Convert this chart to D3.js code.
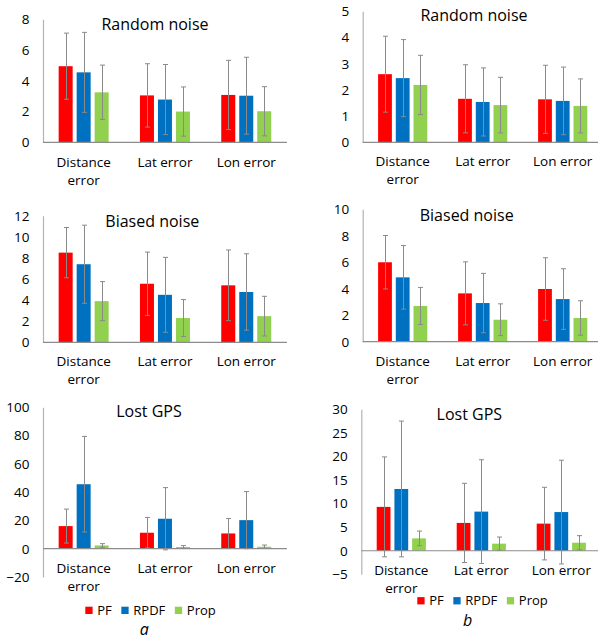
<!DOCTYPE html>
<html>
<head>
<meta charset="utf-8">
<script src="https://cdn.jsdelivr.net/npm/d3@7/dist/d3.min.js"></script>
<style>
  html, body { margin: 0; padding: 0; background: #fff; }
  svg { display: block; font-family: "Open Sans", "Noto Sans", sans-serif; }
</style>
</head>
<body>
<svg id="chart" width="598" height="639"></svg>
<script>
// Categories and series
const categories = ["Distance error", "Lat error", "Lon error"];
const seriesNames = ["PF", "RPDF", "Prop"];
const seriesColors = ["#FF0000", "#0070C0", "#92D050"];

// Column a: mean errors and standard deviations, one array per series
const randomA_PF = [4.95, 3.05, 3.08],  randomA_PF_sd = [2.15, 2.06, 2.25];
const randomA_RPDF = [4.55, 2.78, 3.03], randomA_RPDF_sd = [2.6, 2.28, 2.5];
const randomA_Prop = [3.25, 2.0, 2.02],  randomA_Prop_sd = [1.77, 1.6, 1.6];

const biasedA_PF = [8.5, 5.55, 5.4],    biasedA_PF_sd = [2.38, 3.0, 3.35];
const biasedA_RPDF = [7.4, 4.5, 4.77],  biasedA_RPDF_sd = [3.7, 3.55, 3.62];
const biasedA_Prop = [3.9, 2.3, 2.48],  biasedA_Prop_sd = [1.85, 1.75, 1.88];

const lostA_PF = [16.0, 11.3, 10.8],    lostA_PF_sd = [12.0, 10.8, 10.6];
const lostA_RPDF = [45.6, 21.2, 20.2],  lostA_RPDF_sd = [33.8, 22.0, 20.2];
const lostA_Prop = [2.3, 1.2, 1.4],     lostA_Prop_sd = [1.3, 1.0, 1.2];

// Column b
const randomB_PF = [2.6, 1.66, 1.64],   randomB_PF_sd = [1.45, 1.3, 1.3];
const randomB_RPDF = [2.45, 1.54, 1.58], randomB_RPDF_sd = [1.47, 1.3, 1.29];
const randomB_Prop = [2.19, 1.42, 1.39], randomB_Prop_sd = [1.13, 1.06, 1.03];

const biasedB_PF = [6.0, 3.65, 3.98],   biasedB_PF_sd = [2.02, 2.38, 2.36];
const biasedB_RPDF = [4.86, 2.92, 3.22], biasedB_RPDF_sd = [2.4, 2.24, 2.29];
const biasedB_Prop = [2.7, 1.66, 1.79],  biasedB_Prop_sd = [1.4, 1.2, 1.3];

const lostB_PF = [9.3, 5.9, 5.75],      lostB_PF_sd = [10.6, 8.4, 7.7];
const lostB_RPDF = [13.1, 8.3, 8.2],    lostB_RPDF_sd = [14.4, 11.0, 11.0];
const lostB_Prop = [2.62, 1.5, 1.7],    lostB_Prop_sd = [1.55, 1.4, 1.5];

// Axis tick values per panel
const ticksRandomA = [0, 2, 4, 6, 8];
const ticksRandomB = [0, 1, 2, 3, 4, 5];
const ticksBiasedA = [0, 2, 4, 6, 8, 10, 12];
const ticksBiasedB = [0, 2, 4, 6, 8, 10];
const ticksLostA = [-20, 0, 20, 40, 60, 80, 100];
const ticksLostB = [-5, 0, 5, 10, 15, 20, 25, 30];

const titles = ["Random noise", "Biased noise", "Lost GPS"];
const columnLabels = ["a", "b"];

// Panel definitions: data + layout
const panels = [
  { title: titles[0], ticks: ticksRandomA,
    means: [randomA_PF, randomA_RPDF, randomA_Prop], sds: [randomA_PF_sd, randomA_RPDF_sd, randomA_Prop_sd],
    axisX: 43, groupW: 81.3, yPix: [142.3, 19.3], titleX: 155, titleY: 30, labelY: 162.3 },
  { title: titles[0], ticks: ticksRandomB,
    means: [randomB_PF, randomB_RPDF, randomB_Prop], sds: [randomB_PF_sd, randomB_RPDF_sd, randomB_Prop_sd],
    axisX: 362.7, groupW: 80, yPix: [142.3, 11.3], titleX: 474, titleY: 20.7, labelY: 161.7 },
  { title: titles[1], ticks: ticksBiasedA,
    means: [biasedA_PF, biasedA_RPDF, biasedA_Prop], sds: [biasedA_PF_sd, biasedA_RPDF_sd, biasedA_Prop_sd],
    axisX: 43, groupW: 81.3, yPix: [342.3, 215.7], titleX: 152.3, titleY: 226.7, labelY: 361.7 },
  { title: titles[1], ticks: ticksBiasedB,
    means: [biasedB_PF, biasedB_RPDF, biasedB_Prop], sds: [biasedB_PF_sd, biasedB_RPDF_sd, biasedB_Prop_sd],
    axisX: 362.7, groupW: 80, yPix: [341.7, 209.3], titleX: 466.7, titleY: 220.7, labelY: 361 },
  { title: titles[2], ticks: ticksLostA,
    means: [lostA_PF, lostA_RPDF, lostA_Prop], sds: [lostA_PF_sd, lostA_RPDF_sd, lostA_Prop_sd],
    axisX: 43, groupW: 81.3, yPix: [577, 407.3], titleX: 149, titleY: 417.3, labelY: 568.3 },
  { title: titles[2], ticks: ticksLostB,
    means: [lostB_PF, lostB_RPDF, lostB_Prop], sds: [lostB_PF_sd, lostB_RPDF_sd, lostB_Prop_sd],
    axisX: 361.3, groupW: 80, yPix: [574.3, 409.3], titleX: 469.3, titleY: 420, labelY: 570.3 }
];

const FONT = 13.5;
const svg = d3.select("#chart");

panels.forEach(p => {
  const g = svg.append("g");
  const y = d3.scaleLinear()
    .domain(d3.extent(p.ticks))
    .range(p.yPix);
  const x0 = d3.scaleBand()
    .domain(categories)
    .range([p.axisX, p.axisX + p.groupW * categories.length])
    .padding(0);
  const x1 = d3.scaleBand()
    .domain(seriesNames)
    .range([0, x0.bandwidth()])
    .paddingInner(0.222)
    .paddingOuter(0.87);

  // Y axis: labels + vertical line
  const yAxis = d3.axisLeft(y)
    .tickValues(p.ticks)
    .tickFormat(d3.format("d"))
    .tickSize(0)
    .tickSizeOuter(0)
    .tickPadding(13.5);
  const ya = g.append("g")
    .attr("transform", `translate(${p.axisX},0)`)
    .call(yAxis);
  ya.select(".domain").attr("stroke", "#b3b3b3").attr("stroke-width", 1.2);
  ya.selectAll(".tick text")
    .attr("font-size", FONT)
    .attr("font-family", "'Open Sans', sans-serif")
    .attr("fill", "#000");

  // Bars
  const rows = [];
  categories.forEach((c, ci) => {
    seriesNames.forEach((s, si) => {
      rows.push({ c, s, si, v: p.means[si][ci], sd: p.sds[si][ci] });
    });
  });

  g.append("g").selectAll("rect")
    .data(rows)
    .join("rect")
    .attr("x", d => x0(d.c) + x1(d.s))
    .attr("width", x1.bandwidth())
    .attr("y", d => Math.min(y(d.v), y(0)))
    .attr("height", d => Math.abs(y(0) - y(d.v)))
    .attr("fill", d => seriesColors[d.si]);

  // Horizontal axis line at zero
  g.append("line")
    .attr("x1", x0.range()[0]).attr("x2", x0.range()[1])
    .attr("y1", y(0)).attr("y2", y(0))
    .attr("stroke", "#8c8c8c").attr("stroke-width", 1.2);

  // Error bars
  const eb = g.append("g").attr("stroke", "#8a8a8a").attr("stroke-width", 1).attr("fill", "none");
  rows.forEach(d => {
    const cx = Math.round(x0(d.c) + x1(d.s) + x1.bandwidth() / 2) + 0.5;
    const yt = y(d.v + d.sd), yb = y(d.v - d.sd);
    eb.append("line").attr("x1", cx).attr("x2", cx).attr("y1", yt).attr("y2", yb);
    eb.append("line").attr("x1", cx - 2.5).attr("x2", cx + 2.5).attr("y1", yt).attr("y2", yt);
    eb.append("line").attr("x1", cx - 2.5).attr("x2", cx + 2.5).attr("y1", yb).attr("y2", yb);
  });

  // Category labels (wrapped after first word when needed)
  categories.forEach(c => {
    const cx = x0(c) + x0.bandwidth() / 2;
    const words = c.split(" ");
    const lines = c === "Distance error" ? words : [c];
    const t = g.append("text")
      .attr("text-anchor", "middle")
      .attr("font-size", FONT)
      .attr("fill", "#000");
    lines.forEach((ln, i) => {
      t.append("tspan")
        .attr("x", cx)
        .attr("y", p.labelY + i * 18)
        .attr("dy", "0.35em")
        .text(ln);
    });
  });

  // Title
  g.append("text")
    .attr("x", p.titleX)
    .attr("y", p.titleY)
    .attr("text-anchor", "middle")
    .attr("font-size", 16)
    .attr("fill", "#000")
    .text(p.title);
});

// Legends under the bottom panels
function legend(x, yc) {
  const lg = svg.append("g");
  let cx = x;
  seriesNames.forEach((s, i) => {
    lg.append("rect")
      .attr("x", cx).attr("y", yc - 3.6)
      .attr("width", 7.3).attr("height", 7.3)
      .attr("fill", seriesColors[i]);
    const t = lg.append("text")
      .attr("x", cx + 12)
      .attr("y", yc)
      .attr("dy", "0.35em")
      .attr("font-size", 13)
      .attr("fill", "#000")
      .text(s);
    cx += 12 + t.node().getComputedTextLength() + 9.5;
  });
}
legend(85.3, 610.3);
legend(417.3, 600.7);

// Column labels
svg.append("text")
  .attr("x", 144.3).attr("y", 635)
  .attr("text-anchor", "middle")
  .attr("font-size", 16).attr("font-style", "italic")
  .attr("fill", "#000")
  .text(columnLabels[0]);
svg.append("text")
  .attr("x", 467.5).attr("y", 626)
  .attr("text-anchor", "middle")
  .attr("font-size", 16).attr("font-style", "italic")
  .attr("fill", "#000")
  .text(columnLabels[1]);
</script>
</body>
</html>
